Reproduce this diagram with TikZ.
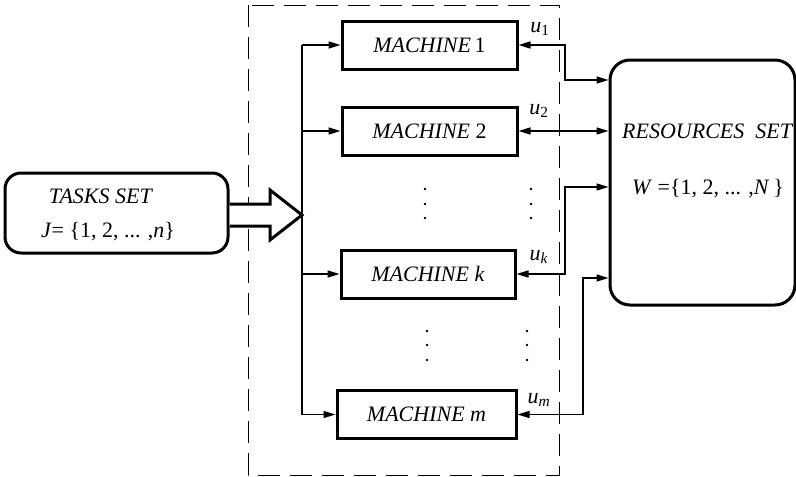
\documentclass[tikz,border=0pt]{standalone}
\usepackage{fontspec}
\setmainfont{Liberation Serif}
\usetikzlibrary{arrows.meta}

\begin{document}
\begin{tikzpicture}[x=1pt,y=1pt,>={Triangle[length=12pt,width=7pt]}]
\tikzstyle{every node}+=[inner sep=0pt,font=\fontsize{22}{26}\selectfont]
\tikzstyle{machine}=[draw,line width=3pt,minimum height=48pt]
\tikzstyle{wire}=[line width=1.4pt]
\useasboundingbox (0,0) rectangle (796,-477);
% task and resource sets
\node [draw,line width=3pt,rounded corners=16pt,minimum width=223pt,minimum height=80pt] (tasks) at (116.5,-213) {};
\node (tasksname) at (101,-196) {\textit{TASKS SET}};
\node (tasksset) at (108,-232) {\textit{J}= \{1, 2, ... ,\textit{n}\}};
\node [draw,line width=3pt,rounded corners=20pt,minimum width=185pt,minimum height=245pt] (res) at (702.5,-182.5) {};
\node [anchor=west] (resname) at (622,-131) {\textit{RESOURCES\ \ SET}};
\node (resset) at (708,-189) {\textit{W} =\{1, 2, ... ,\textit{N}\,\}};
% machines
\node [machine,minimum width=175pt] (m1) at (429.5,-45) {\textit{MACHINE}\,1};
\node [machine,minimum width=175pt] (m2) at (429.5,-131) {\textit{MACHINE} 2};
\node [machine,minimum width=174pt] (mk) at (428,-274) {\textit{MACHINE k}};
\node [machine,minimum width=179pt] (mm) at (426.5,-414.5) {\textit{MACHINE m}};
% dashed frame
\draw [black,line width=0.9pt,dash pattern=on 22pt off 10pt] (248,-5) rectangle (559,-475);
% hollow arrow into the bus
\coordinate (bus) at (302,-215);
\draw [line width=3pt,line join=miter,fill=white] (tasks.east |- 0,-204) -- (270,-204) -- (270,-190) -- (bus) -- (270,-240) -- (270,-226) -- (tasks.east |- 0,-226);
% bus to machines
\draw [wire] (m1.west -| bus) -- (mm.west -| bus);
\draw [wire,->] (m1.west -| bus) -- (m1.west);
\draw [wire,->] (m2.west -| bus) -- (m2.west);
\draw [wire,->] (mk.west -| bus) -- (mk.west);
\draw [wire,->] (mm.west -| bus) -- (mm.west);
% machines to resources
\coordinate (r1) at (res.west |- 0,-80);
\coordinate (rk) at (res.west |- 0,-187);
\coordinate (rm) at (res.west |- 0,-278);
\draw [wire,<->] (m1.east) -- (565,-45) |- (r1);
\draw [wire,<->] (m2.east) -- (m2.east -| res.west);
\draw [wire,<->] (mk.east) -- (565,-274) |- (rk);
\draw [wire,<->] (mm.east) -- (583,-414.5) |- (rm);
\node (u1) at (540,-29) {\textit{u}\textsubscript{1}};
\node (u2) at (539,-111) {\textit{u}\textsubscript{2}};
\node (uk) at (539,-257) {\textit{u}\textsubscript{\textit{k}}};
\node (um) at (539,-400) {\textit{u}\textsubscript{\textit{m}}};
% dots
\foreach \x/\y in {425/189,425/204,425/218,531/189,531/204,531/218,427/331,427/345,427/360,527/331,527/345,527/360}
  \fill (\x,-\y) circle (1.3pt);
\end{tikzpicture}
\end{document}
